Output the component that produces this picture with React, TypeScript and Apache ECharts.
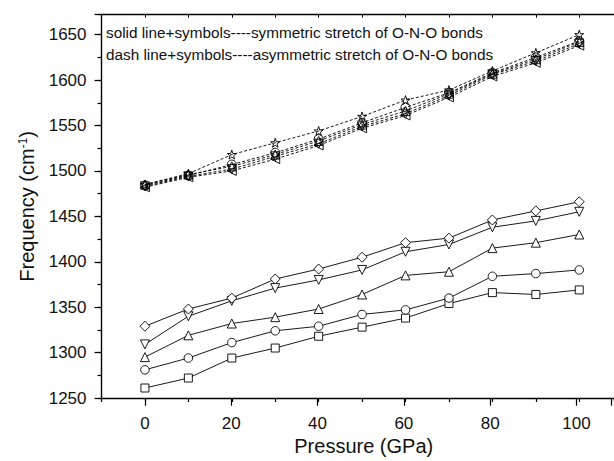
import React, { useEffect, useRef } from 'react';
import * as echarts from 'echarts';

// Pressure (GPa)
const pressures = [0, 10, 20, 30, 40, 50, 60, 70, 80, 90, 100];

// symmetric stretch (solid lines)
const symSquare = [1261, 1272, 1294, 1305, 1318, 1328, 1338, 1354, 1366, 1364, 1369];
const symCircle = [1281, 1294, 1311, 1324, 1329, 1342, 1347, 1360, 1384, 1387, 1391];
const symTriUp = [1295, 1319, 1332, 1339, 1348, 1364, 1385, 1389, 1415, 1421, 1430];
const symTriDown = [1309, 1340, 1357, 1371, 1380, 1391, 1411, 1419, 1438, 1445, 1455];
const symDiamond = [1329, 1348, 1360, 1381, 1392, 1405, 1421, 1426, 1446, 1456, 1466];

// asymmetric stretch (dashed lines)
const asymStar = [1485, 1497, 1518, 1531, 1544, 1560, 1578, 1589, 1610, 1630, 1650];
const asymCircle = [1484, 1495, 1507, 1520, 1535, 1553, 1570, 1586, 1608, 1625, 1643];
const asymTriUp = [1485, 1496, 1505, 1518, 1533, 1551, 1566, 1585, 1607, 1623, 1642];
const asymTriDown = [1483, 1494, 1502, 1516, 1530, 1549, 1563, 1583, 1606, 1621, 1640];
const asymTriLeft = [1482, 1493, 1500, 1513, 1528, 1547, 1561, 1581, 1604, 1619, 1638];

const legendLines = [
  'solid line+symbols----symmetric stretch of O-N-O bonds',
  'dash line+symbols----asymmetric stretch of O-N-O bonds',
];

const STAR = 'path://M50 0 L61.8 35.1 L97.6 34.5 L69 56.9 L79.4 90.5 L50 70.6 L20.6 90.5 L31 56.9 L2.4 34.5 L38.2 35.1 Z';
const FONT = 'Liberation Sans, Arial, Helvetica, sans-serif';

const X_MIN = -10;
const X_MAX = 108;
const Y_MIN = 1250;
const Y_MAX = 1672;

function makeSeries(values: number[], symbol: string, size: number, rotate: number, dashed: boolean) {
  return {
    type: 'line',
    xAxisIndex: 0,
    yAxisIndex: 0,
    data: pressures.map((p, i) => [p, values[i]]),
    symbol,
    symbolSize: size,
    symbolRotate: rotate,
    showAllSymbol: true,
    clip: false,
    silent: true,
    lineStyle: { color: '#000', width: 0.9, type: dashed ? [3, 2] : 'solid' },
    itemStyle: { color: dashed ? 'rgba(255,255,255,0)' : '#fff', borderColor: '#000', borderWidth: 0.9 },
    z: dashed ? 3 : 4,
  };
}

export default function App() {
  const ref = useRef<HTMLDivElement>(null);
  useEffect(() => {
    if (!ref.current) return;
    const chart = echarts.init(ref.current, undefined, { renderer: 'svg' });
    const gridLeft = 101.5;
    const gridRight = 0;
    const gridTop = 14.7;
    const gridBottom = 62.3;
    const pxPerUnit = (614 - gridLeft - gridRight) / (X_MAX - X_MIN);
    const grid1Left = gridLeft + (0 - X_MIN) * pxPerUnit;
    const line = { show: true, onZero: false, lineStyle: { color: '#000', width: 1.4 } };

    chart.setOption({
      animation: false,
      textStyle: { fontFamily: FONT },
      grid: [
        { left: gridLeft, right: gridRight, top: gridTop, bottom: gridBottom },
        { left: grid1Left, right: gridRight, top: gridTop, bottom: gridBottom },
      ],
      xAxis: [
        {
          type: 'value', gridIndex: 0, position: 'bottom', min: X_MIN, max: X_MAX, interval: 10,
          axisLine: line,
          axisTick: { show: true, length: 4, inside: false, lineStyle: { color: '#000', width: 1.2 } },
          axisLabel: { show: false },
          splitLine: { show: false },
          name: 'Pressure (GPa)', nameLocation: 'middle', nameGap: 38,
          nameTextStyle: { fontSize: 20, color: '#111', fontFamily: FONT, padding: [0, 0, 0, 12] },
        },
        {
          type: 'value', gridIndex: 1, position: 'bottom', min: 0, max: X_MAX, interval: 20,
          axisLine: { show: false, onZero: false },
          axisTick: { show: true, length: 7, inside: false, lineStyle: { color: '#000', width: 1.2 } },
          axisLabel: {
            show: true, margin: 16, fontSize: 17, color: '#111', fontFamily: FONT,
            formatter: (v: number) => (v <= 100 ? String(v) : ''),
          },
          splitLine: { show: false },
        },
        {
          type: 'value', gridIndex: 0, position: 'top', min: X_MIN, max: X_MAX, interval: 10,
          axisLine: line,
          axisTick: { show: true, length: 3, inside: true, lineStyle: { color: '#000', width: 1 } },
          axisLabel: { show: false },
          splitLine: { show: false },
        },
      ],
      yAxis: [
        {
          type: 'value', gridIndex: 0, position: 'left', min: Y_MIN, max: Y_MAX, interval: 50,
          axisLine: line,
          axisTick: { show: true, length: 7, inside: false, lineStyle: { color: '#000', width: 1.2 } },
          axisLabel: {
            show: true, margin: 15, fontSize: 17, color: '#111', fontFamily: FONT,
            formatter: (v: number) => (v % 50 === 0 ? String(v) : ''),
          },
          splitLine: { show: false },
          name: 'Frequency (cm{sup|-1})', nameLocation: 'middle', nameGap: 64,
          nameTextStyle: {
            fontSize: 20, color: '#111', fontFamily: FONT,
            rich: { sup: { fontSize: 12, fontFamily: FONT, color: '#111', padding: [0, 0, 9, 0] } },
          },
        },
        {
          type: 'value', gridIndex: 0, position: 'left', min: Y_MIN, max: Y_MAX, interval: 25,
          axisLine: { show: false, onZero: false },
          axisTick: { show: true, length: 4, inside: false, lineStyle: { color: '#000', width: 1.2 } },
          axisLabel: { show: false },
          splitLine: { show: false },
        },
        {
          type: 'value', gridIndex: 1, show: false, min: Y_MIN, max: Y_MAX,
          axisLine: { show: false, onZero: false },
          splitLine: { show: false },
        },
      ],
      graphic: legendLines.map((t, i) => ({
        type: 'text',
        left: 106,
        top: 25 + i * 22.4,
        style: { text: t, fontSize: 15.3, fontFamily: FONT, fill: '#111' },
        silent: true,
      })),
      series: [
        makeSeries(asymTriLeft, 'triangle', 9, 90, true),
        makeSeries(asymTriDown, 'triangle', 9, 180, true),
        makeSeries(asymTriUp, 'triangle', 9, 0, true),
        makeSeries(asymCircle, 'circle', 9, 0, true),
        makeSeries(asymStar, STAR, 9, 0, true),
        makeSeries(symSquare, 'rect', 8, 0, false),
        makeSeries(symCircle, 'circle', 8.5, 0, false),
        makeSeries(symTriUp, 'triangle', 9, 0, false),
        makeSeries(symTriDown, 'triangle', 9, 180, false),
        makeSeries(symDiamond, 'diamond', 10, 0, false),
      ],
    });
    return () => chart.dispose();
  }, []);
  return (
    <div
      ref={ref}
      style={{ position: 'fixed', left: 0, top: 0, width: 614, height: 461, background: '#fff' }}
    />
  );
}
